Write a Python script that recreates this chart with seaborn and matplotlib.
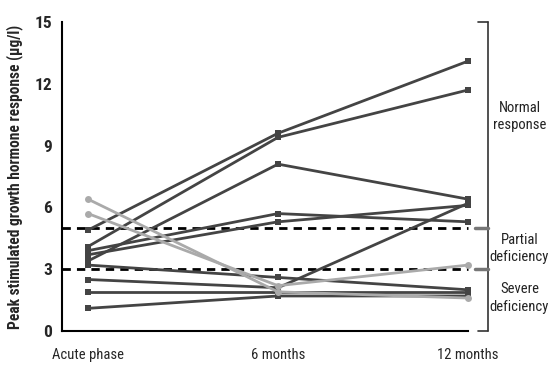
import pandas as pd
import matplotlib.pyplot as plt
import seaborn as sns
from matplotlib import font_manager

# Data (µg/l)
phases = ['Acute phase', '6 months', '12 months']
acute = [4.9, 4.1, 3.4, 3.9, 3.7, 3.2, 2.5, 1.9, 1.1, 6.4, 5.7]
six_months = [9.6, 9.4, 8.1, 5.7, 5.3, 2.6, 2.1, 1.9, 1.7, 1.9, 2.2]
twelve_months = [13.1, 11.7, 6.4, 5.3, 6.1, 2.0, 6.2, 1.9, 1.7, 1.6, 3.2]
shade = ['dark'] * 9 + ['grey'] * 2
thresholds = [5, 3]
bracket_limits = [0, 15]
zone_labels = ['Normal\nresponse', 'Partial\ndeficiency', 'Severe\ndeficiency']
zone_label_y = [10.4, 4.0, 1.6]

# Long table for seaborn
rows = []
for i in range(len(acute)):
    for phase, val in zip(phases, [acute[i], six_months[i], twelve_months[i]]):
        rows.append({'patient': i, 'phase': phase, 'value': val, 'shade': shade[i]})
df = pd.DataFrame(rows)

sns.set_style('white')
# pick a narrow font if one is around
names = {f.name for f in font_manager.fontManager.ttflist}
narrow = None
for cand in ['Liberation Sans Narrow', 'Roboto Condensed', 'DejaVu Sans Condensed',
             'Open Sans Condensed']:
    if cand in names:
        narrow = cand
        break
if narrow:
    plt.rcParams['font.family'] = [narrow, 'DejaVu Sans']
    ylab_size, zone_size, tick_size = 11.2, 10.5, 10.5
else:
    plt.rcParams['font.family'] = ['DejaVu Sans']
    plt.rcParams['font.stretch'] = 'condensed'
    ylab_size, zone_size, tick_size = 8.6, 8.8, 9

fig = plt.figure(figsize=(5.5, 3.73), dpi=100)
ax = fig.add_axes([62 / 550, 1 - 331 / 373, (468 - 62) / 550, (331 - 22) / 373])

# threshold lines
for t in thresholds:
    ax.axhline(t, color='black', lw=2, ls=(0, (3, 2.2)), zorder=1)

sns.lineplot(data=df, x='phase', y='value', units='patient', estimator=None,
             hue='shade', style='shade', palette={'dark': '#444444', 'grey': '#aaaaaa'},
             markers={'dark': 's', 'grey': 'o'}, dashes=False, linewidth=2,
             markersize=5, markeredgewidth=0, legend=False, ax=ax, zorder=3)
for ln in ax.lines:
    ln.set_clip_on(False)

ax.set_xlim(-0.137, 2.0)
ax.set_ylim(0, 15)
ax.set_yticks([0, 3, 6, 9, 12, 15])
ax.set_xticks(range(len(phases)))
ax.set_xticklabels(phases, fontsize=tick_size)
ax.tick_params(axis='y', direction='in', length=8, width=1.5, labelsize=tick_size + 2, pad=7)
ax.tick_params(axis='x', direction='in', length=6, width=1.5, pad=12)
for lab in ax.get_yticklabels():
    lab.set_fontweight('bold')
ax.set_xlabel('')
ax.set_ylabel('Peak stimulated growth hormone response (µg/l)', fontsize=ylab_size,
              fontweight='bold', labelpad=8)
for s in ['top', 'right']:
    ax.spines[s].set_visible(False)
for s in ['left', 'bottom']:
    ax.spines[s].set_linewidth(1.5)
    ax.spines[s].set_color('black')

# right-hand bracket with zone labels
tr = ax.get_yaxis_transform()
bx = 1.049
ax.plot([bx, bx], bracket_limits, color='#333333', lw=1.2, transform=tr, clip_on=False)
for y in bracket_limits:
    ax.plot([bx - 0.025, bx], [y, y], color='#333333', lw=1.2, transform=tr, clip_on=False)
for t in thresholds:
    ax.plot([bx - 0.032, bx], [t, t], color='#777777', lw=2.5, transform=tr, clip_on=False)
for txt, y in zip(zone_labels, zone_label_y):
    ax.text(1.127, y, txt, transform=tr, ha='center', va='center', fontsize=zone_size,
            color='#222222', linespacing=1.3)

fig.savefig('out.png', dpi=100)
